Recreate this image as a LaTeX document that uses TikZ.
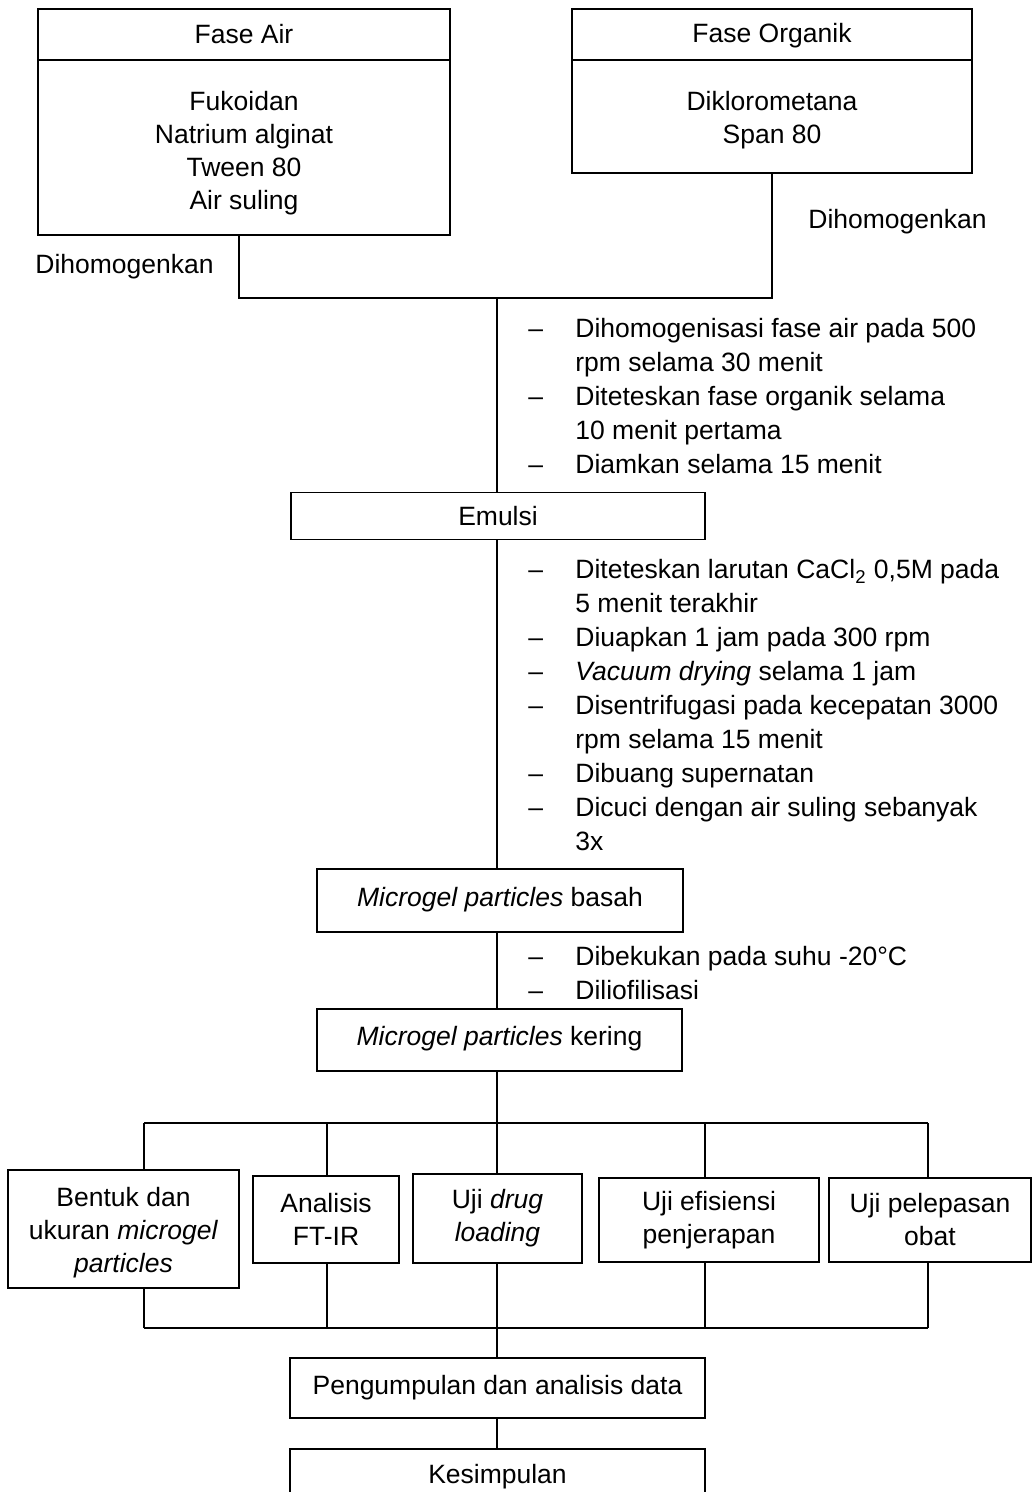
\documentclass[tikz,border=0pt]{standalone}
\usepackage{fontspec}
\setmainfont{Liberation Sans}
\usetikzlibrary{positioning,calc}
\tikzset{
	kotak/.style={draw, line width=0.6pt, inner sep=0pt, align=center, font=\fontsize{13.25}{16.5}\selectfont},
	langkah/.style={inner sep=0pt, anchor=west, font=\fontsize{13.25}{17}\selectfont},
	garis/.style={line width=0.6pt},
}
\newcommand{\strip}{–}
\newcommand{\atas}[1]{\rule{0pt}{#1}}
\newcommand{\bawah}[1]{\rule[-#1]{0pt}{0pt}}

\begin{document}
\begin{tikzpicture}[x=0.5pt, y=-0.5pt]
				\useasboundingbox (0,0) rectangle (1032,1492);
				\clip (0,0) rectangle (1032,1492);
				\node[kotak, minimum width=206pt, minimum height=25.5pt] (airjudul) at (244,34.5) {Fase Air};
				\node[kotak, minimum width=206pt, minimum height=87.5pt] (airisi) at (244,147.5) {\atas{15.7pt}Fukoidan\\Natrium alginat\\Tween 80\\Air suling};
				\node[kotak, minimum width=200pt, minimum height=25.5pt] (organikjudul) at (772,34.5) {\atas{11pt}Fase Organik};
				\node[kotak, minimum width=200pt, minimum height=56.5pt] (organikisi) at (772,116.5) {\atas{13.7pt}Diklorometana\\Span 80};
				\node[langkah] (homogenkiri) at (35,267) {Dihomogenkan};
				\node[langkah] (homogenkanan) at (808,222) {Dihomogenkan};
				\node[langkah] (tahap1) at (528,399) {\begin{tabular}{@{}p{23.5pt}@{}l@{}}
					\strip & Dihomogenisasi fase air pada 500\\
					& rpm selama 30 menit\\
					\strip & Diteteskan fase organik selama\\
					& 10 menit pertama\\
					\strip & Diamkan selama 15 menit
				\end{tabular}};
				\node[kotak, minimum width=207pt, minimum height=23.5pt] (emulsi) at (498,516) {Emulsi};
				\node[langkah] (tahap2) at (528,708) {\begin{tabular}{@{}p{23.5pt}@{}l@{}}
					\strip & Diteteskan larutan CaCl\textsubscript{2} 0,5M pada\\
					& 5 menit terakhir\\
					\strip & Diuapkan 1 jam pada 300 rpm\\
					\strip & \textit{Vacuum drying} selama 1 jam\\
					\strip & Disentrifugasi pada kecepatan 3000\\
					& rpm selama 15 menit\\
					\strip & Dibuang supernatan\\
					\strip & Dicuci dengan air suling sebanyak\\
					& 3x
				\end{tabular}};
				\node[kotak, minimum width=183pt, minimum height=31.5pt] (basah) at (500,900.5) {\textit{Microgel particles} basah\bawah{3.8pt}};
				\node[langkah] (tahap3) at (528,976) {\begin{tabular}{@{}p{23.5pt}@{}l@{}}
					\strip & Dibekukan pada suhu -20°C\\
					\strip & Diliofilisasi
				\end{tabular}};
				\node[kotak, minimum width=182.5pt, minimum height=31pt] (kering) at (499.5,1040) {\textit{Microgel particles} kering\bawah{4.5pt}};
				\node[kotak, minimum width=115.5pt, minimum height=59pt] (bentuk) at (123.5,1229) {\atas{13.7pt}Bentuk dan\\ukuran \textit{microgel}\\\textit{particles}};
				\node[kotak, minimum width=73pt, minimum height=43.5pt] (ftir) at (326,1219.5) {Analisis\\FT-IR};
				\node[kotak, minimum width=84.5pt, minimum height=44.5pt] (uji) at (497.5,1218.5) {Uji \textit{drug}\\\textit{loading}};
				\node[kotak, minimum width=110pt, minimum height=42pt] (efisiensi) at (709,1220) {Uji efisiensi\\penjerapan};
				\node[kotak, minimum width=101pt, minimum height=42pt] (pelepasan) at (930,1220) {Uji pelepasan\\obat};
				\node[kotak, minimum width=207.5pt, minimum height=30pt] (kumpul) at (497.5,1388) {Pengumpulan dan analisis data};
				\node[kotak, minimum width=207.5pt, minimum height=26pt] (simpul) at (497.5,1475) {\atas{11pt}Kesimpulan};
				\coordinate (j1) at (497,298);
				\draw[garis] ([xshift=-2.5pt]airisi.south) |- (j1) -| (organikisi.south);
				\draw[garis] (j1) -- (j1 |- emulsi.north);
				\draw[garis] (j1 |- emulsi.south) -- (j1 |- basah.north);
				\draw[garis] (j1 |- basah.south) -- (j1 |- kering.north);
				\coordinate (c1) at (144,1123);
				\coordinate (c2) at (327,1123);
				\coordinate (c4) at (705,1123);
				\coordinate (c5) at (928,1123);
				\coordinate (d1) at (144,1328);
				\coordinate (d2) at (327,1328);
				\coordinate (d4) at (705,1328);
				\coordinate (d5) at (928,1328);
				\draw[garis] (c1) -- (c5);
				\draw[garis] (d1) -- (d5);
				\draw[garis] (j1 |- kering.south) -- (j1 |- uji.north);
				\draw[garis] (j1 |- uji.south) -- (j1 |- kumpul.north);
				\draw[garis] (j1 |- kumpul.south) -- (j1 |- simpul.north);
				\foreach \c/\b in {c1/bentuk, c2/ftir, c4/efisiensi, c5/pelepasan}
					\draw[garis] (\c) -- (\c |- \b.north);
				\foreach \d/\b in {d1/bentuk, d2/ftir, d4/efisiensi, d5/pelepasan}
					\draw[garis] (\d) -- (\d |- \b.south);
			\end{tikzpicture}
\end{document}
